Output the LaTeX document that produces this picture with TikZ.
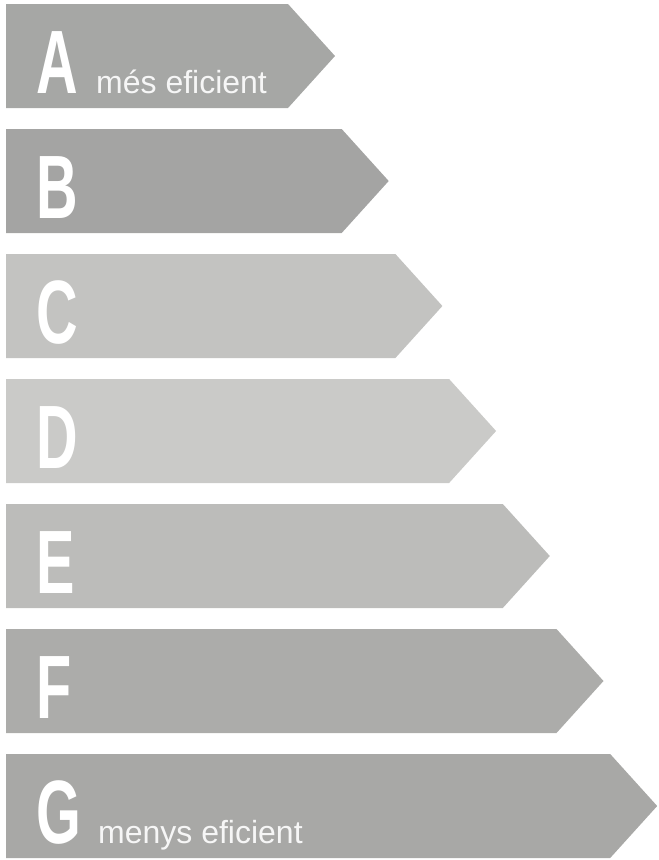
\documentclass[tikz,border=0pt]{standalone}
\usepackage{fontspec}
\setmainfont{Liberation Sans}
\definecolor{cA}{HTML}{A6A7A5}
\definecolor{cB}{HTML}{A4A4A3}
\definecolor{cC}{HTML}{C3C3C1}
\definecolor{cD}{HTML}{CACAC8}
\definecolor{cE}{HTML}{BCBCBA}
\definecolor{cF}{HTML}{ACACAA}
\definecolor{cG}{HTML}{A8A8A6}
\tikzset{
  bar/.style={draw=none},
  letterlab/.style={anchor=base west,inner sep=0pt,text=white,
    font=\fontsize{60}{60}\selectfont\bfseries},
  sidelab/.style={anchor=base west,inner sep=0pt,text=white!93!gray,
    font=\fontsize{32}{32}\selectfont}
}
\newcommand{\condensed}[1]{\scalebox{0.96}[1.5]{#1}}
\begin{document}
\begin{tikzpicture}[x=1pt,y=-1pt]
\useasboundingbox (0,0) rectangle (659,860);
\foreach \c [count=\i from 0] in {cA,cB,cC,cD,cE,cF,cG}{
  \pgfmathsetmacro{\top}{4+125*\i}
  \pgfmathsetmacro{\tip}{335+53.7*\i}
  \pgfmathsetmacro{\sh}{\tip-47}
  \fill[bar,fill=\c] (6,\top) -- (\sh,\top) -- (\tip,\top+52) -- (\sh,\top+104) -- (6,\top+104) -- cycle;
}
\foreach \L [count=\i from 0] in {A,B,C,D,E,F,G}{
  \pgfmathsetmacro{\top}{4+125*\i}
  \node[letterlab] (let\L) at (36,\top+89) {\condensed{\L}};
}
\node[sidelab] (tA) at (96,93) {més eficient};
\node[sidelab] (tG) at (98,843) {menys eficient};
\end{tikzpicture}
\end{document}
